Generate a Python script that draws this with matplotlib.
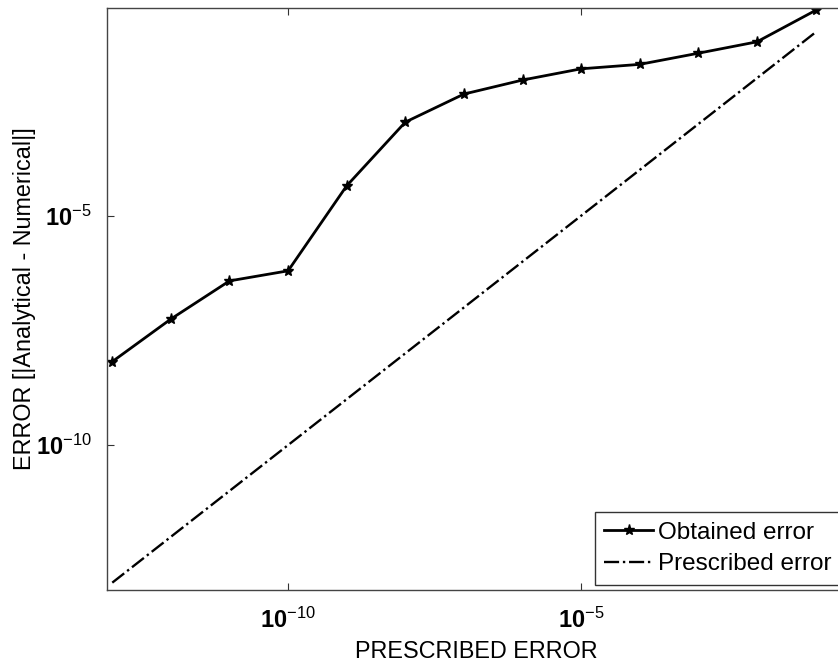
import matplotlib
matplotlib.use("Agg")
import matplotlib.pyplot as plt
import numpy as np

plt.rcParams['font.family'] = ['Liberation Sans', 'DejaVu Sans']
plt.rcParams['mathtext.fontset'] = 'custom'
plt.rcParams['mathtext.rm'] = 'Liberation Sans'
plt.rcParams['mathtext.it'] = 'Liberation Sans'
plt.rcParams['mathtext.bf'] = 'Liberation Sans:bold'

prescribed = [1e-13, 1e-12, 1e-11, 1e-10, 1e-9, 1e-8, 1e-7, 1e-6, 1e-5, 1e-4, 1e-3, 1e-2, 1e-1]
obtained = [6.6e-9, 5.6e-8, 3.8e-7, 6.3e-7, 4.5e-5, 1.1e-3, 4.5e-3, 9.1e-3, 1.6e-2, 2.0e-2, 3.5e-2, 6.2e-2, 0.30]
x_ticks = [1e-10, 1e-5]
y_ticks = [1e-10, 1e-5]
x_tick_labels = [r'$\mathbf{10}^{-10}$', r'$\mathbf{10}^{-5}$']
y_tick_labels = [r'$\mathbf{10}^{-10}$', r'$\mathbf{10}^{-5}$']

fig = plt.figure(figsize=(8.38, 6.65), dpi=100)
ax = fig.add_axes([107/838, 75/665, 739/838, 582/665])

ax.loglog(prescribed, obtained, '-', color='black', lw=2.0, marker='*', ms=8,
          label='Obtained error')
ax.loglog(prescribed, prescribed, '-.', color='black', lw=1.7,
          label='Prescribed error')

ax.set_xlim(10**-13.09, 10**-0.48)
ax.set_ylim(10**-13.16, 10**-0.47)
ax.set_xticks(x_ticks)
ax.set_xticklabels(x_tick_labels)
ax.set_yticks(y_ticks)
ax.set_yticklabels(y_tick_labels)
ax.minorticks_off()
ax.tick_params(which='both', direction='in', top=True, right=True, length=5,
               width=0.8, color='#333333', labelsize=17)
ax.tick_params(axis='x', pad=13)
ax.tick_params(axis='y', pad=11)
for s in ax.spines.values():
    s.set_color('#444444')
    s.set_linewidth(1.0)

ax.set_xlabel('PRESCRIBED ERROR', fontsize=16.8, labelpad=5)
ax.set_ylabel('ERROR [|Analytical - Numerical|]', fontsize=16.8, labelpad=0)

leg = ax.legend(loc='lower right', fontsize=17.5, frameon=True, fancybox=False,
                handlelength=2.0, handletextpad=0.2, borderpad=0.4,
                labelspacing=0.4, borderaxespad=0.2)
leg.get_frame().set_edgecolor('black')
leg.get_frame().set_linewidth(1.0)

fig.savefig('out.png', dpi=100)
